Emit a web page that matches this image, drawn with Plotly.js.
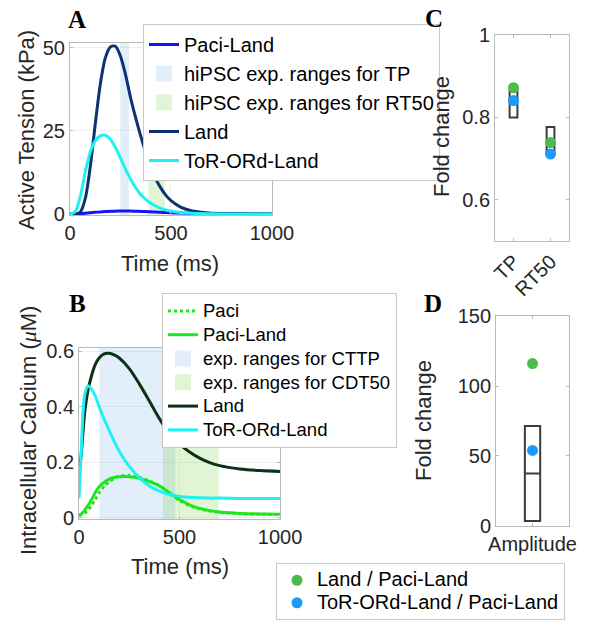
<!DOCTYPE html>
<html>
<head>
<meta charset="utf-8">
<script src="https://cdn.plot.ly/plotly-3.0.1.min.js"></script>
<style>html,body{margin:0;padding:0;background:#fff;}#chart{width:591px;height:621px;}</style>
</head>
<body>
<div id="chart"></div>
<script>
// ---------- Panel A: active tension (kPa) ----------
const timeA = [0,25,50,75,100,125,150,175,200,225,250,275,300,325,350,375,400,425,450,475,500,550,600,650,700,800,900,1000];
const paciLandA = [0,0.02,0.08,0.2,0.35,0.5,0.62,0.72,0.8,0.86,0.9,0.9,0.88,0.84,0.78,0.72,0.65,0.58,0.5,0.44,0.38,0.28,0.2,0.14,0.1,0.05,0.03,0.02];
const landA = [0,0,0.5,4.5,14,27,39,47,50.3,50.5,47.5,42,35,29,23.5,18.5,14,10.5,7.8,5.6,4,2,1,0.5,0.25,0.1,0.05,0.02];
const torordA = [0,0.6,5,12.5,18.5,22,23.5,23.7,22.5,20,16.8,13.5,10.5,7.9,5.9,4.4,3.2,2.4,1.7,1.2,0.9,0.45,0.25,0.12,0.06,0.02,0.01,0];
const tpRange = [249, 292];
const rt50Range = [389, 469];
const rangeA = [-0.3, 51.5];

// ---------- Panel B: intracellular calcium (uM) ----------
const timeB = [0,10,20,30,45,60,80,100,125,150,175,200,250,300,350,400,450,500,550,600,650,700,800,900,1000];
const paciB = [0.01,0.011,0.013,0.018,0.028,0.042,0.065,0.09,0.113,0.13,0.142,0.15,0.153,0.146,0.133,0.116,0.088,0.062,0.044,0.032,0.025,0.02,0.015,0.013,0.012];
const paciLandB = [0.01,0.013,0.02,0.03,0.045,0.062,0.09,0.112,0.128,0.139,0.145,0.148,0.148,0.142,0.13,0.115,0.09,0.066,0.047,0.034,0.026,0.021,0.016,0.014,0.013];
const landB = [0.17,0.22,0.31,0.39,0.46,0.505,0.55,0.575,0.59,0.592,0.586,0.575,0.537,0.482,0.42,0.357,0.303,0.265,0.237,0.215,0.199,0.188,0.176,0.17,0.167];
const torordB = [0.07,0.22,0.38,0.45,0.475,0.465,0.44,0.40,0.355,0.315,0.275,0.24,0.185,0.145,0.115,0.096,0.084,0.077,0.074,0.072,0.071,0.071,0.07,0.07,0.07];
const cttpRange = [101, 479];
const cdt50Range = [418, 695];
const rangeB = [-0.004, 0.611];

// ---------- Panel C: fold change TP / RT50 ----------
const catsC = ['TP', 'RT50'];
const posC = [1, 2];
const expQ1C = [0.80, 0.71];
const expMedC = [0.845, 0.73];
const expQ3C = [0.865, 0.777];
const landFoldC = [0.872, 0.739];
const torordFoldC = [0.841, 0.711];

// ---------- Panel D: fold change amplitude ----------
const catsD = ['Amplitude'];
const posD = [1];
const expQ1D = [3.5];
const expMedD = [37.5];
const expQ3D = [71.5];
const landFoldD = [116];
const torordFoldD = [54];

const FONT = 'Liberation Sans, Arial, Helvetica, sans-serif';
const TXT = '#262626';
const AXC = '#b9b9b9';

const BLUEBAND = 'rgba(110,175,235,0.2)';
const GREENBAND = 'rgba(105,200,40,0.2)';
const BLUEBAND_SOLID = '#e2effb';
const GREENBAND_SOLID = '#e1f4d4';
const GREEN = '#4cbb4c';
const BLUE = '#1e9bfa';

function sized(t, px) { return px ? '<span style="font-size:' + px + 'px">' + t + '</span>' : t; }

function band(range, yr, color, xa, ya) {
  return {
    x: [range[0], range[1], range[1], range[0], range[0]],
    y: [yr[0], yr[0], yr[1], yr[1], yr[0]],
    type: 'scatter', mode: 'lines', fill: 'toself', fillcolor: color,
    line: {width: 0, color: 'rgba(0,0,0,0)'}, showlegend: false,
    xaxis: xa, yaxis: ya, hoverinfo: 'skip'
  };
}
function bandKey(name, color, xa, ya, leg, rank, px) {
  return {
    x: [null], y: [null], type: 'scatter', mode: 'markers', name: sized(name, px),
    marker: {symbol: 'square', size: 16, color: color, line: {width: 0}},
    xaxis: xa, yaxis: ya, legend: leg, legendrank: rank, hoverinfo: 'skip'
  };
}
function curve(x, y, name, color, xa, ya, leg, rank, px, dash) {
  return {
    x: x, y: y, type: 'scatter', mode: 'lines', name: sized(name, px),
    line: {color: color, width: 3, shape: 'spline', smoothing: 0.8, dash: dash || 'solid'},
    xaxis: xa, yaxis: ya, legend: leg, legendrank: rank
  };
}
function boxes(pos, q1, med, q3, xa, ya) {
  return {
    type: 'box', x: pos, q1: q1, median: med, q3: q3, lowerfence: q1, upperfence: q3,
    width: 0.21, whiskerwidth: 0, boxpoints: false,
    line: {color: '#3c3c3c', width: 2}, fillcolor: 'rgba(0,0,0,0)',
    xaxis: xa, yaxis: ya, showlegend: false, hoverinfo: 'skip'
  };
}
function dots(pos, y, name, color, xa, ya, show) {
  return {
    type: 'scatter', mode: 'markers', x: pos, y: y, name: sized(name, 20),
    marker: {color: color, size: 11, line: {width: 0}},
    xaxis: xa, yaxis: ya, legend: 'legend3', showlegend: show
  };
}

const PXB = 18.5;
const data = [
  band(tpRange, rangeA, BLUEBAND, 'x', 'y'),
  band(rt50Range, rangeA, GREENBAND, 'x', 'y'),
  bandKey('hiPSC exp. ranges for TP', BLUEBAND_SOLID, 'x', 'y', 'legend', 2),
  bandKey('hiPSC exp. ranges for RT50', GREENBAND_SOLID, 'x', 'y', 'legend', 3),
  curve(timeA, paciLandA, 'Paci-Land', '#1414ff', 'x', 'y', 'legend', 1),
  curve(timeA, landA, 'Land', '#0d3270', 'x', 'y', 'legend', 4),
  curve(timeA, torordA, 'ToR-ORd-Land', '#1ef0f5', 'x', 'y', 'legend', 5),

  band(cttpRange, rangeB, BLUEBAND, 'x2', 'y2'),
  band(cdt50Range, rangeB, GREENBAND, 'x2', 'y2'),
  bandKey('exp. ranges for CTTP', BLUEBAND_SOLID, 'x2', 'y2', 'legend2', 3, PXB),
  bandKey('exp. ranges for CDT50', GREENBAND_SOLID, 'x2', 'y2', 'legend2', 4, PXB),
  curve(timeB, paciB, 'Paci', '#1ee61e', 'x2', 'y2', 'legend2', 1, PXB, 'dot'),
  curve(timeB, paciLandB, 'Paci-Land', '#1ee61e', 'x2', 'y2', 'legend2', 2, PXB),
  curve(timeB, landB, 'Land', '#0b3217', 'x2', 'y2', 'legend2', 5, PXB),
  curve(timeB, torordB, 'ToR-ORd-Land', '#1ef0f5', 'x2', 'y2', 'legend2', 6, PXB),

  boxes(posC, expQ1C, expMedC, expQ3C, 'x3', 'y3'),
  dots(posC, landFoldC, 'Land / Paci-Land', GREEN, 'x3', 'y3', true),
  dots(posC, torordFoldC, 'ToR-ORd-Land / Paci-Land', BLUE, 'x3', 'y3', true),

  boxes(posD, expQ1D, expMedD, expQ3D, 'x4', 'y4'),
  dots(posD, landFoldD, 'Land / Paci-Land', GREEN, 'x4', 'y4', false),
  dots(posD, torordFoldD, 'ToR-ORd-Land / Paci-Land', BLUE, 'x4', 'y4', false)
];

function ax(extra) {
  return Object.assign({
    showline: true, linecolor: AXC, linewidth: 1, mirror: 'ticks',
    ticks: 'inside', ticklen: 3, tickcolor: AXC, zeroline: false,
    showgrid: false, tickfont: {family: FONT, size: 20, color: TXT},
    fixedrange: true
  }, extra);
}
function letter(t, x, y) {
  return {text: '<b>' + t + '</b>', x: x / 591, y: 1 - y / 621, xref: 'paper', yref: 'paper',
    xanchor: 'center', yanchor: 'middle', showarrow: false,
    font: {family: 'Liberation Serif, Times New Roman, serif', size: 25, color: '#000'}};
}
function axTitle(t, x, y, angle) {
  return {text: t, x: x / 591, y: 1 - y / 621, xref: 'paper', yref: 'paper',
    xanchor: 'center', yanchor: 'middle', showarrow: false, textangle: angle || 0,
    font: {family: FONT, size: 22, color: TXT}};
}

const layout = {
  width: 591, height: 621,
  margin: {l: 0, r: 0, t: 0, b: 0},
  paper_bgcolor: '#fff', plot_bgcolor: '#fff',
  showlegend: true,
  font: {family: FONT, color: TXT},
  xaxis: ax({domain: [0.1184, 0.4602], range: [0, 1000], anchor: 'y', tickvals: [0, 500, 1000],
    showgrid: true, gridcolor: '#efefef'}),
  yaxis: ax({domain: [0.6538, 0.9308], range: rangeA, anchor: 'x', tickvals: [0, 25, 50],
    showgrid: true, gridcolor: '#efefef'}),
  xaxis2: ax({domain: [0.1337, 0.4738], range: [0, 1000], anchor: 'y2', tickvals: [0, 500, 1000],
    showgrid: true, gridcolor: '#efefef'}),
  yaxis2: ax({domain: [0.1643, 0.4396], range: rangeB, anchor: 'x2', tickvals: [0, 0.2, 0.4, 0.6],
    showgrid: true, gridcolor: '#efefef'}),
  xaxis3: ax({domain: [0.8376, 0.9628], range: [0.5, 2.5], anchor: 'y3', tickvals: posC, ticktext: catsC, tickangle: -45}),
  yaxis3: ax({domain: [0.6119, 0.9436], range: [0.5, 1], anchor: 'x3', tickvals: [0.6, 0.8, 1], ticktext: ['0.6', '0.8', '1']}),
  xaxis4: ax({domain: [0.8393, 0.9628], range: [0.5, 1.5], anchor: 'y4', tickvals: posD, ticktext: catsD}),
  yaxis4: ax({domain: [0.1530, 0.4911], range: [0, 150], anchor: 'x4', tickvals: [0, 50, 100, 150]}),
  legend: {x: 143 / 591, y: 1 - 24 / 621, xanchor: 'left', yanchor: 'top', bgcolor: '#fff',
    bordercolor: '#c8c8c8', borderwidth: 1, font: {family: FONT, size: 20, color: '#000'}},
  legend2: {x: 162 / 591, y: 1 - 293 / 621, xanchor: 'left', yanchor: 'top', bgcolor: '#fff',
    bordercolor: '#c8c8c8', borderwidth: 1, font: {family: FONT, size: 16, color: '#000'}},
  legend3: {x: 276 / 591, y: 1 / 621, xanchor: 'left', yanchor: 'bottom', bgcolor: '#fff',
    bordercolor: '#c8c8c8', borderwidth: 1, font: {family: FONT, size: 15, color: '#000'}},
  annotations: [
    letter('A', 77, 19),
    letter('B', 77, 304),
    letter('C', 434, 18),
    letter('D', 433, 304),
    axTitle('Active Tension (kPa)', 26, 130, -90),
    axTitle('Time (ms)', 170, 263),
    axTitle('Intracellular Calcium (<span style="font-family:Liberation Serif"><i>μ</i></span>M)', 28, 431, -90),
    axTitle('Time (ms)', 180, 566),
    axTitle('Fold change', 441, 137, -90),
    axTitle('Fold change', 423, 421, -90)
  ]
};

Plotly.newPlot('chart', data, layout, {displayModeBar: false, staticPlot: true});
</script>
</body>
</html>
